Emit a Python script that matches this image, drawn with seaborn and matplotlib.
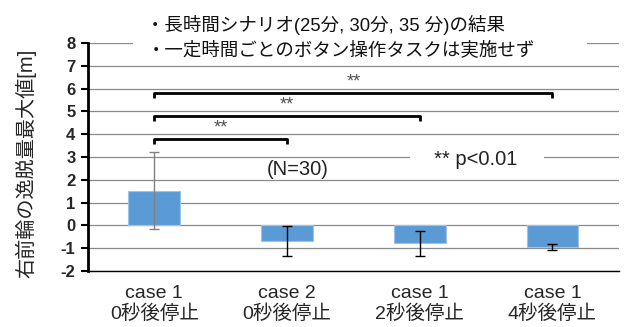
import matplotlib
matplotlib.use("Agg")
import matplotlib.pyplot as plt
from matplotlib.patches import Rectangle
import seaborn as sns
import numpy as np

# Maximum deviation of the right front wheel per condition
categories = ["case 1\n0秒後停止", "case 2\n0秒後停止", "case 1\n2秒後停止", "case 1\n4秒後停止"]
means = [1.52, -0.69, -0.79, -0.95]
errors = [1.68, 0.66, 0.55, 0.13]
err_colors = ["#808080", "#000000", "#000000", "#000000"]

# Significance brackets: (from index, to index, height)
brackets = [(0, 1, 3.78), (0, 2, 4.80), (0, 3, 5.80)]
yticks = [-2, -1, 0, 1, 2, 3, 4, 5, 6, 7, 8]

title_line1 = "・長時間シナリオ(25分, 30分, 35 分)の結果"
title_line2 = "・一定時間ごとのボタン操作タスクは実施せず"
ylabel = "右前輪の逸脱量最大値[m]"

sns.set_theme(style="white")
plt.rcParams["font.family"] = ["Liberation Sans", "Noto Sans CJK JP"]

fig = plt.figure(figsize=(6.25, 3.27), dpi=100)
ax = fig.add_axes([0.1408, 0.1713, 0.8492, 0.6972])

sns.barplot(x=categories, y=means, color="#5B9BD5", errorbar=None, width=0.39,
            edgecolor="#9DC3E6", linewidth=0.8, saturation=1, ax=ax, zorder=3)

xs = np.arange(len(categories))
for x, m, e, c in zip(xs, means, errors, err_colors):
    ax.errorbar(x, m, yerr=e, fmt="none", ecolor=c, elinewidth=1.0, capsize=3.5,
                capthick=1.0, zorder=4)

ax.set_xlim(-0.5, 3.5)
ax.set_ylim(-2, 8)
ax.set_yticks(yticks)
ax.set_yticklabels([str(t) for t in yticks], fontsize=12, fontweight="bold")
ax.yaxis.grid(True, color="#8a8a8a", linewidth=0.9, zorder=0)
ax.set_axisbelow(True)
ax.tick_params(axis="y", which="both", left=True, length=5, width=1.5, color="black", pad=4)
ax.tick_params(axis="x", length=0, pad=10, labelsize=14)
for lbl in ax.get_xticklabels():
    lbl.set_linespacing(1.2)

for side in ["top", "right"]:
    ax.spines[side].set_visible(False)
ax.spines["left"].set_color("black")
ax.spines["left"].set_linewidth(2)
ax.spines["bottom"].set_color("black")
ax.spines["bottom"].set_linewidth(1)

ax.set_ylabel(ylabel, fontsize=14.5)
ax.yaxis.set_label_coords(-0.098, 0.47)

# significance brackets
for i, j, h in brackets:
    ax.plot([xs[i], xs[i], xs[j], xs[j]], [h - 0.2, h, h, h - 0.2],
            color="black", linewidth=2, solid_capstyle="butt", zorder=5)
    ax.text((xs[i] + xs[j]) / 2, h + 0.1, "**", ha="center", va="bottom",
            fontsize=13, color="#505050", zorder=5)

ax.text(1.08, 2.43, "(N=30)", ha="center", va="center", fontsize=14.5, color="#222222")

# note box on the 3 m gridline
ax.add_patch(Rectangle((1.93, 2.75), 1.01, 0.5, facecolor="white", edgecolor="none", zorder=2))
ax.text(2.42, 2.88, "** p<0.01", ha="center", va="center", fontsize=14.5, color="#222222",
        zorder=6)

# title box above the plot area
ax.add_patch(Rectangle((-0.16, 7.2), 3.42, 2.0, facecolor="white", edgecolor="none",
                       zorder=2, clip_on=False))
ax.text(-0.06, 8.78, title_line1, ha="left", va="center", fontsize=13.3,
        color="#111111", zorder=6, clip_on=False)
ax.text(-0.06, 7.68, title_line2, ha="left", va="center", fontsize=13.3,
        color="#111111", zorder=6, clip_on=False)

fig.savefig("out.png", dpi=100)
